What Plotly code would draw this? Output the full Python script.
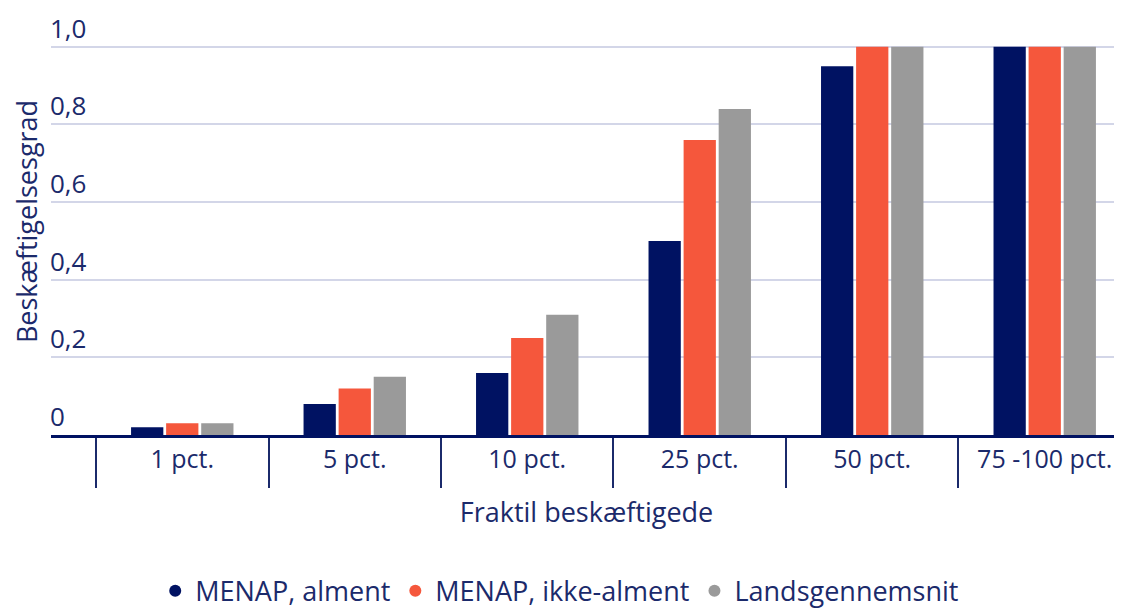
import plotly.graph_objects as go

categories = ["1 pct.", "5 pct.", "10 pct.", "25 pct.", "50 pct.", "75 -100 pct."]
menap_alment = [0.02, 0.08, 0.16, 0.50, 0.95, 1.0]
menap_ikke_alment = [0.03, 0.12, 0.25, 0.76, 1.0, 1.0]
landsgennemsnit = [0.03, 0.15, 0.31, 0.84, 1.0, 1.0]
series_names = ["MENAP, alment", "MENAP, ikke-alment", "Landsgennemsnit"]
y_ticks = [0, 0.2, 0.4, 0.6, 0.8, 1.0]
y_tick_labels = ["0", "0,2", "0,4", "0,6", "0,8", "1,0"]

colors = ["#001262", "#F5573C", "#9A9A9A"]
navy_text = "#1B2A6B"
font_family = "Open Sans, sans-serif"
xtick_fs = 25
ytick_fs = 26
title_fs = 27

fig = go.Figure()
for name, vals, col in zip(series_names, [menap_alment, menap_ikke_alment, landsgennemsnit], colors):
    fig.add_trace(go.Bar(x=categories, y=vals, name=name, marker=dict(color=col, line=dict(width=0)),
                         showlegend=False))
for name, col in zip(series_names, colors):
    fig.add_trace(go.Scatter(x=[None], y=[None], mode="markers", name=name,
                             marker=dict(symbol="circle", size=16, color=col)))

fig.update_layout(
    width=1114, height=608,
    margin=dict(l=43, r=0, t=0, b=179),
    paper_bgcolor="white", plot_bgcolor="white",
    font=dict(family=font_family, size=xtick_fs, color=navy_text),
    barmode="group", bargap=0.39, bargroupgap=0.08,
    legend=dict(orientation="h", x=0.475, xanchor="center", y=-0.366, yanchor="middle",
                font=dict(size=27, color=navy_text), itemsizing="constant",
                itemwidth=30, tracegroupgap=0),
    xaxis=dict(
        type="category", range=[-0.761, 5.448],
        tickson="boundaries", ticks="outside", ticklen=50, tickwidth=1.5, tickcolor=navy_text,
        showline=True, linecolor="#001262", linewidth=2.5,
        showgrid=False, zeroline=False,
        tickfont=dict(size=xtick_fs, color=navy_text),
        title=dict(text="Fraktil beskæftigede", font=dict(size=title_fs, color=navy_text), standoff=30),
        automargin=False,
    ),
    yaxis=dict(
        range=[0, 1.1], tickvals=y_ticks, ticktext=y_tick_labels,
        ticklabelposition="inside top", ticks="", ticklabelstandoff=-4,
        showgrid=True, gridcolor="#D3D6E8", gridwidth=1.5,
        zeroline=False, showline=False,
        tickfont=dict(size=ytick_fs, color=navy_text),
        title=dict(text="Beskæftigelsesgrad", font=dict(size=title_fs, color=navy_text), standoff=14),
        automargin=False,
    ),
)

fig.write_html("out.html")
